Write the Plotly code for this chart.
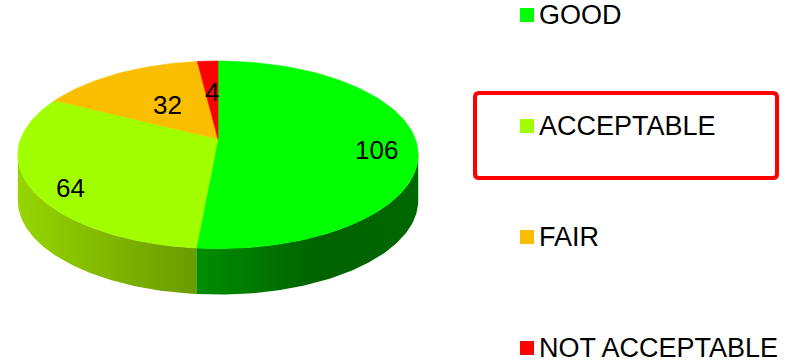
import numpy as np
import plotly.graph_objects as go

# Survey outcome counts
categories = ["GOOD", "ACCEPTABLE", "FAIR", "NOT ACCEPTABLE"]
counts = [106, 64, 32, 4]

# Face colours and side-wall gradients per category
top_colors = ["#00FF00", "#A2FF00", "#FBBD00", "#FF0000"]
side_scales = [
    [[0, "#008E00"], [0.55, "#006200"], [1, "#006800"]],
    [[0, "#96D600"], [1, "#6A9A00"]],
    [[0, "#D09C00"], [1, "#A07800"]],
    [[0, "#C00000"], [1, "#A00000"]],
]

# Canvas and 3-D pie projection settings (screen pixels)
W, H = 794, 360
CX, CY = 218, 139          # projected centre of the pie's top face
FOCAL = 1040               # perspective focal length
TILT = np.radians(27.5)    # viewing elevation
DIST = 5.27                # camera distance in pie radii
DEPTH = 46                 # thickness of the pie wall in pixels

LABEL_RADIUS = [0.8, 0.8, 0.48, 0.56]
LABEL_DY = [8, 11, 0, 0]
FONT = "Liberation Sans, Arial, sans-serif"


def project(r, theta):
    """Map polar coords on the pie (theta clockwise from 12 o'clock) to screen."""
    x = r * np.sin(theta)
    z = r * np.cos(theta)
    d = DIST + z * np.cos(TILT)
    return CX + FOCAL * x / d, CY - FOCAL * z * np.sin(TILT) / d


total = float(sum(counts))
bounds = 2 * np.pi * np.concatenate([[0], np.cumsum(counts)]) / total

# Angles where the rim's outline turns (left/right extremes of the ellipse)
theta_r = np.arccos(-np.cos(TILT) / DIST)
theta_l = 2 * np.pi - theta_r

fig = go.Figure()

# Side walls (only the front half of the rim is visible)
for i, name in enumerate(categories):
    a, b = max(bounds[i], theta_r), min(bounds[i + 1], theta_l)
    if b <= a:
        continue
    th = np.linspace(a, b, 120)
    sx, sy = project(1.0, th)
    xs = np.concatenate([sx, sx[::-1]])
    ys = np.concatenate([sy, sy[::-1] + DEPTH])
    fig.add_trace(go.Scatter(
        x=xs, y=ys, mode="lines", fill="toself",
        fillgradient=dict(type="horizontal", colorscale=side_scales[i]),
        line=dict(width=0), hoverinfo="skip", showlegend=False,
    ))

# Top faces of the slices
for i, name in enumerate(categories):
    th = np.linspace(bounds[i], bounds[i + 1], max(4, int(200 * counts[i] / total)))
    sx, sy = project(1.0, th)
    xs = np.concatenate([[CX], sx, [CX]])
    ys = np.concatenate([[CY], sy, [CY]])
    fig.add_trace(go.Scatter(
        x=xs, y=ys, mode="lines", fill="toself", fillcolor=top_colors[i],
        line=dict(width=0.6, color=top_colors[i]),
        hoverinfo="skip", showlegend=False, name=name,
    ))

# Value labels on the slices
for i, v in enumerate(counts):
    mid = (bounds[i] + bounds[i + 1]) / 2
    lx, ly = project(LABEL_RADIUS[i], mid)
    fig.add_annotation(x=lx, y=ly + LABEL_DY[i], text=str(v), showarrow=False,
                       xanchor="center", yanchor="middle",
                       font=dict(family=FONT, size=26, color="#000000"))

# Legend: coloured squares with labels in a column on the right
LEG_X, LEG_Y0, LEG_STEP = 527, 15, 111
leg_y = [LEG_Y0 + LEG_STEP * i for i in range(len(categories))]
fig.add_trace(go.Scatter(
    x=[LEG_X] * len(categories), y=leg_y, mode="markers",
    marker=dict(symbol="square", size=14, color=top_colors, line=dict(width=0)),
    hoverinfo="skip", showlegend=False,
))
for name, y in zip(categories, leg_y):
    fig.add_annotation(x=LEG_X + 10, y=y, text=name, showarrow=False,
                       xanchor="left", yanchor="middle", height=22, valign="middle",
                       font=dict(family=FONT, size=27, color="#000000"))

# Highlight box around the ACCEPTABLE legend entry
x0, x1, y0, y1, rr = 475, 777, 93, 178, 4
fig.add_shape(
    type="path",
    path=(f"M {x0+rr},{y0} L {x1-rr},{y0} Q {x1},{y0} {x1},{y0+rr} "
          f"L {x1},{y1-rr} Q {x1},{y1} {x1-rr},{y1} L {x0+rr},{y1} "
          f"Q {x0},{y1} {x0},{y1-rr} L {x0},{y0+rr} Q {x0},{y0} {x0+rr},{y0} Z"),
    line=dict(color="#FF0000", width=4),
)

fig.update_layout(
    width=W, height=H, margin=dict(l=0, r=0, t=0, b=0),
    paper_bgcolor="white", plot_bgcolor="white", showlegend=False,
    xaxis=dict(range=[0, W], visible=False, fixedrange=True),
    yaxis=dict(range=[H, 0], visible=False, fixedrange=True),
)

fig.write_html("out.html", config={"displayModeBar": False})
